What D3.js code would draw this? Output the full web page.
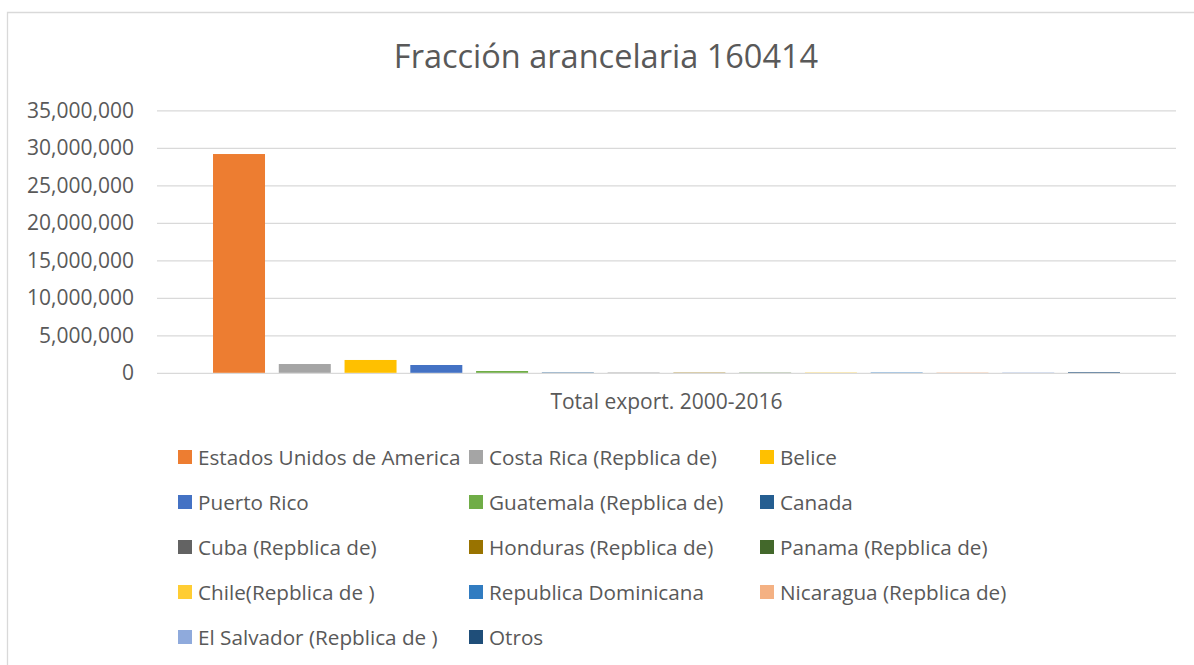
<!DOCTYPE html>
<html>
<head>
<meta charset="utf-8">
<script src="https://cdn.jsdelivr.net/npm/d3@7"></script>
<style>
  body { margin: 0; background: #fff; overflow: hidden; }
  text { font-family: "Open Sans", sans-serif; fill: #595959; }
</style>
</head>
<body>
<div id="chart"></div>
<script>
const width = 1194, height = 665;
const margin = { top: 110.3, right: 18, bottom: 292.2, left: 157 };
const innerWidth = width - margin.left - margin.right;
const innerHeight = height - margin.top - margin.bottom;

// data
const category = "Total export. 2000-2016";
const countries = [
    "Estados Unidos de America", "Costa Rica (Repblica de)", "Belice",
    "Puerto Rico", "Guatemala (Repblica de)", "Canada",
    "Cuba (Repblica de)", "Honduras (Repblica de)", "Panama (Repblica de)",
    "Chile(Repblica de )", "Republica Dominicana", "Nicaragua (Repblica de)",
    "El Salvador (Repblica de )", "Otros"
];
const values = [29170000, 1170000, 1710000, 1040000, 240000, 50000, 30000,
    40000, 30000, 40000, 50000, 40000, 40000, 80000];
const colours = ["#ED7D31", "#A5A5A5", "#FFC000", "#4472C4", "#70AD47", "#255E91",
    "#636363", "#997300", "#43682B", "#FFCD33", "#317CC1", "#F4B183",
    "#8FAADC", "#1F4E79"];
const yTicks = [0, 5000000, 10000000, 15000000, 20000000, 25000000, 30000000, 35000000];

const data = countries.map((c, i) => ({ country: c, value: values[i] }));

const svg = d3.select("#chart")
    .append("svg")
    .attr("width", width)
    .attr("height", height);

// chart frame (only left and top edges show in the picture)
svg.append("path")
    .attr("d", `M7.5,${height} V12.5 H${width}`)
    .attr("fill", "none")
    .attr("stroke", "#D9D9D9")
    .attr("stroke-width", 1.3);

svg.append("text")
    .text("Fracción arancelaria 160414")
    .attr("x", 606)
    .attr("y", 68)
    .attr("text-anchor", "middle")
    .style("font-size", "32.5px");

const innerChart = svg.append("g")
    .attr("transform", `translate(${margin.left}, ${margin.top})`);

const xScale = d3.scaleBand()
    .domain(countries)
    .range([0, innerWidth])
    .paddingInner(0.2094)
    .paddingOuter(0.8517);

const yScale = d3.scaleLinear()
    .domain([0, 35000000])
    .range([innerHeight, 0]);

// gridlines
const leftAxis = d3.axisLeft(yScale)
    .tickValues(yTicks)
    .tickSize(-innerWidth)
    .tickFormat(d3.format(","))
    .tickPadding(23);
const yAxisG = innerChart.append("g").call(leftAxis);
yAxisG.select(".domain").remove();
yAxisG.selectAll("line")
    .attr("stroke", "#D9D9D9")
    .attr("stroke-width", 1.3);
yAxisG.selectAll("text")
    .style("font-size", "21px")
    .style("font-family", "'Open Sans', sans-serif")
    .attr("fill", "#595959");

// bars
innerChart.selectAll("rect.bar")
    .data(data)
    .join("rect")
    .attr("class", "bar")
    .attr("x", d => xScale(d.country))
    .attr("y", d => yScale(d.value))
    .attr("width", xScale.bandwidth())
    .attr("height", d => innerHeight - yScale(d.value))
    .attr("fill", (d, i) => colours[i]);

// category label
svg.append("text")
    .text(category)
    .attr("x", margin.left + innerWidth / 2)
    .attr("y", 409)
    .attr("text-anchor", "middle")
    .style("font-size", "21px");

// legend
const legendCols = [178, 469, 760];
const legend = svg.append("g").attr("class", "legend");
countries.forEach((c, i) => {
    const g = legend.append("g")
        .attr("transform", `translate(${legendCols[i % 3]}, ${457 + Math.floor(i / 3) * 45})`);
    g.append("rect")
        .attr("x", 0).attr("y", -7)
        .attr("width", 14).attr("height", 14)
        .attr("fill", colours[i]);
    g.append("text")
        .attr("x", 20)
        .attr("y", 7.5)
        .text(c)
        .style("font-size", "20.7px");
});
</script>
</body>
</html>
